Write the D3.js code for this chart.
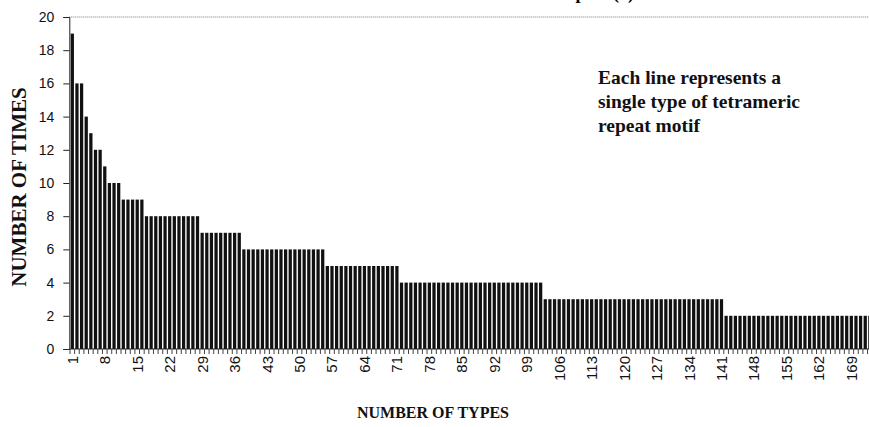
<!DOCTYPE html>
<html>
<head>
<meta charset="utf-8">
<script src="https://cdn.jsdelivr.net/npm/d3@7"></script>
<style>
  html, body { margin: 0; padding: 0; background: #fff; overflow: hidden; }
  svg { display: block; }
</style>
</head>
<body>
<div id="chart"></div>
<script>
// times each tetrameric repeat type occurs, one value per type (sorted)
const timesPerType = [
  19,
  16, 16,
  14,
  13,
  12, 12,
  11,
  10, 10, 10,
  9, 9, 9, 9, 9,
  8, 8, 8, 8, 8, 8, 8, 8, 8, 8, 8, 8,
  7, 7, 7, 7, 7, 7, 7, 7, 7,
  6, 6, 6, 6, 6, 6, 6, 6, 6, 6, 6, 6, 6, 6, 6, 6, 6, 6,
  5, 5, 5, 5, 5, 5, 5, 5, 5, 5, 5, 5, 5, 5, 5, 5,
  4, 4, 4, 4, 4, 4, 4, 4, 4, 4, 4, 4, 4, 4, 4, 4,
  4, 4, 4, 4, 4, 4, 4, 4, 4, 4, 4, 4, 4, 4, 4,
  3, 3, 3, 3, 3, 3, 3, 3, 3, 3, 3, 3, 3,
  3, 3, 3, 3, 3, 3, 3, 3, 3, 3, 3, 3, 3,
  3, 3, 3, 3, 3, 3, 3, 3, 3, 3, 3, 3, 3,
  2, 2, 2, 2, 2, 2, 2, 2, 2, 2, 2, 2, 2, 2, 2, 2,
  2, 2, 2, 2, 2, 2, 2, 2, 2, 2, 2, 2, 2, 2, 2, 2
];
const typeNumbers = timesPerType.map((_, i) => i + 1);
const xTickLabels = [1, 8, 15, 22, 29, 36, 43, 50, 57, 64, 71, 78, 85, 92, 99,
  106, 113, 120, 127, 134, 141, 148, 155, 162, 169];
const yTicks = [0, 2, 4, 6, 8, 10, 12, 14, 16, 18, 20];
const noteLines = ['Each line represents a', 'single type of tetrameric', 'repeat motif'];
const chartTitle = 'Tetrameric Repeat (4)';
const xTitle = 'NUMBER OF TYPES';
const yTitle = 'NUMBER OF TIMES';

(function () {
  const W = 869, H = 427;
  const left = 69.3, top = 17, bottom = 349;
  const step = 4.645;
  const sans = '"Liberation Sans", Arial, sans-serif';
  const serif = '"Liberation Serif", "Times New Roman", serif';

  const svg = d3.select('#chart').append('svg')
    .attr('width', W)
    .attr('height', H);

  const x = d3.scaleBand()
    .domain(typeNumbers)
    .range([left, left + typeNumbers.length * step])
    .paddingInner(0.3)
    .paddingOuter(0.3);
  const y = d3.scaleLinear()
    .domain([0, 20])
    .range([bottom, top]);

  // dotted top border of plot area
  svg.append('line')
    .attr('x1', left).attr('x2', W)
    .attr('y1', y(20)).attr('y2', y(20))
    .attr('stroke', '#777')
    .attr('stroke-width', 1)
    .attr('stroke-dasharray', '1,1');

  svg.append('g')
    .selectAll('rect')
    .data(typeNumbers)
    .join('rect')
    .attr('x', d => x(d))
    .attr('y', d => y(timesPerType[d - 1]))
    .attr('width', x.bandwidth())
    .attr('height', d => bottom - y(timesPerType[d - 1]))
    .attr('fill', '#111');

  // y axis
  svg.append('g')
    .attr('transform', `translate(${left},0)`)
    .call(d3.axisLeft(y).tickValues(yTicks).tickSize(6).tickPadding(9))
    .call(g => g.select('.domain').attr('stroke', '#222'))
    .call(g => g.selectAll('.tick line').attr('stroke', '#222'))
    .selectAll('text')
    .attr('fill', '#111')
    .style('font-family', sans)
    .style('font-size', '14px');

  // x axis: a tick between every category, labels every 7th
  const xAxis = svg.append('g');
  xAxis.append('line')
    .attr('x1', left).attr('x2', W)
    .attr('y1', bottom).attr('y2', bottom)
    .attr('stroke', '#222');
  xAxis.selectAll('.xt')
    .data(typeNumbers)
    .join('line')
    .attr('class', 'xt')
    .attr('x1', d => x(d) - x.step() * x.paddingInner() / 2)
    .attr('x2', d => x(d) - x.step() * x.paddingInner() / 2)
    .attr('y1', bottom)
    .attr('y2', bottom + 5)
    .attr('stroke', '#444');
  xAxis.selectAll('.xl')
    .data(xTickLabels)
    .join('text')
    .attr('class', 'xl')
    .attr('transform', d => `translate(${x(d) + x.bandwidth() / 2 + 5.5},${bottom + 7}) rotate(-90)`)
    .attr('text-anchor', 'end')
    .attr('fill', '#111')
    .style('font-family', sans)
    .style('font-size', '15px')
    .text(d => d);

  svg.append('text')
    .attr('x', 634)
    .attr('y', -1)
    .attr('text-anchor', 'end')
    .style('font-family', serif)
    .style('font-weight', 'bold')
    .style('font-size', '18px')
    .text(chartTitle);

  svg.append('text')
    .attr('x', 433)
    .attr('y', 418)
    .attr('text-anchor', 'middle')
    .attr('fill', '#111')
    .style('font-family', serif)
    .style('font-weight', 'bold')
    .style('font-size', '16px')
    .text(xTitle);

  svg.append('text')
    .attr('transform', `translate(26,187) rotate(-90)`)
    .attr('text-anchor', 'middle')
    .attr('fill', '#111')
    .style('font-family', serif)
    .style('font-weight', 'bold')
    .style('font-size', '21px')
    .text(yTitle);

  svg.append('g')
    .selectAll('text')
    .data(noteLines)
    .join('text')
    .attr('x', 598)
    .attr('y', (d, i) => 84 + i * 24)
    .attr('fill', '#111')
    .style('font-family', serif)
    .style('font-weight', 'bold')
    .style('font-size', '19.5px')
    .text(d => d);
})();
</script>
</body>
</html>
